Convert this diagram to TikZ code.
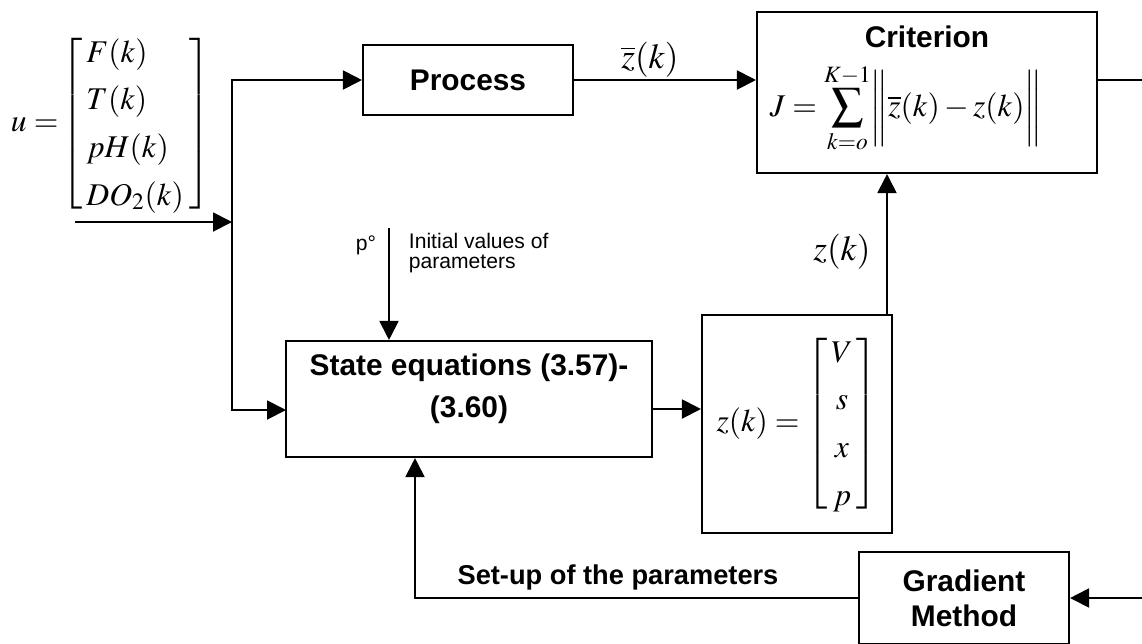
\documentclass[tikz,border=0pt]{standalone}
\usepackage{amsmath}
\usepackage{mathptmx}
\usepackage[no-math]{fontspec}
\setsansfont{Liberation Sans}
\usetikzlibrary{arrows.meta}
\renewcommand{\arraystretch}{1.13}
\newcommand{\smallbrackets}{\delimiterfactor=820\relax\delimitershortfall=12pt\relax}
\begin{document}
\begin{tikzpicture}[x=0.02cm,y=-0.02cm,
  line width=1.1pt,
  box/.style={draw, line width=1.2pt, inner sep=0pt},
  arr/.style={-{Triangle[length=0.38cm,width=0.38cm]}},
  lbl/.style={font=\sffamily\bfseries\fontsize{17}{20}\selectfont, align=center},
  mth/.style={font=\fontsize{20}{24}\selectfont, inner sep=0pt},
  vec/.style={font=\fontsize{18}{24}\selectfont, inner sep=0pt},
  small/.style={font=\sffamily\fontsize{12}{11.5}\selectfont, inner sep=0pt}
]
\useasboundingbox (0,0) rectangle (1142,643);

% boxes
\node[box, lbl, minimum width=4.2cm, minimum height=1.4cm] (process) at (468,80) {Process};
\node[box, minimum width=6.8cm, minimum height=3.22cm] (criterion) at (927,92.5) {};
\node[lbl] (crit) at (927,37) {Criterion};
\node[vec] (J) at (906,108) {$J=\displaystyle\sum_{k=o}^{K-1}\!\bigg\|\overline{z}(k)-z(k)\bigg\|$};
\node[box, minimum width=7.32cm, minimum height=2.32cm] (state) at (469,399) {};
\node[lbl, font=\sffamily\bfseries\fontsize{17}{24}\selectfont] (statet) at (469,389) {State equations (3.57)-\\(3.60)};
\node[box, vec, minimum width=3.8cm, minimum height=4.36cm] (zbox) at (797,424)
  {$\smallbrackets z(k)=\left[\begin{array}{@{\,}c@{\,}}V\\s\\x\\p\end{array}\right]$};
\node[box, lbl, minimum width=4.2cm, minimum height=1.84cm] (gradient) at (964,598) {Gradient\\Method};

% input vector
\node[vec, anchor=west] (u) at (10,124) {$\smallbrackets u=\!\left[\begin{array}{@{\,}l@{\hspace{0.12cm}}}F(k)\\T(k)\\pH(k)\\DO_2(k)\end{array}\right]$};

% coordinates
\coordinate (uin) at (75,222);
\coordinate (j) at (232,222);
\coordinate (sin) at (286,410);
\coordinate (p0) at (389,228);
\coordinate (zt) at (887,315);
\coordinate (rout) at (1142,80);
\coordinate (rin) at (1142,598);

% connectors
\draw[arr] (uin) -- (j);
\draw[arr] (j) |- (process.west);
\draw[arr] (j) |- (sin);
\draw[arr] (process.east) -- (criterion.west |- process.east);
\draw[arr] (p0) -- (p0 |- state.north);
\draw[arr] (state.east |- 0,409) -- (zbox.west |- 0,409);
\draw[arr] (zt) -- (zt |- criterion.south);
\draw (criterion.east |- rout) -- (rout);
\draw[arr] (rin) -- (gradient.east);
\draw[arr] (gradient.west) -| (state.south -| 415,0);

% labels
\node[mth] (zbar) at (650,60) {$\overline{z}(k)$};
\node[mth] (zk) at (842,252) {$z(k)$};
\node[small] (p0l) at (366,245) {p°};
\node[small, anchor=west, align=left] (init) at (408,253) {Initial values of\\parameters};
\node[lbl, font=\sffamily\bfseries\fontsize{15.5}{18}\selectfont] (setup) at (618,577) {Set-up of the parameters};
\end{tikzpicture}
\end{document}
